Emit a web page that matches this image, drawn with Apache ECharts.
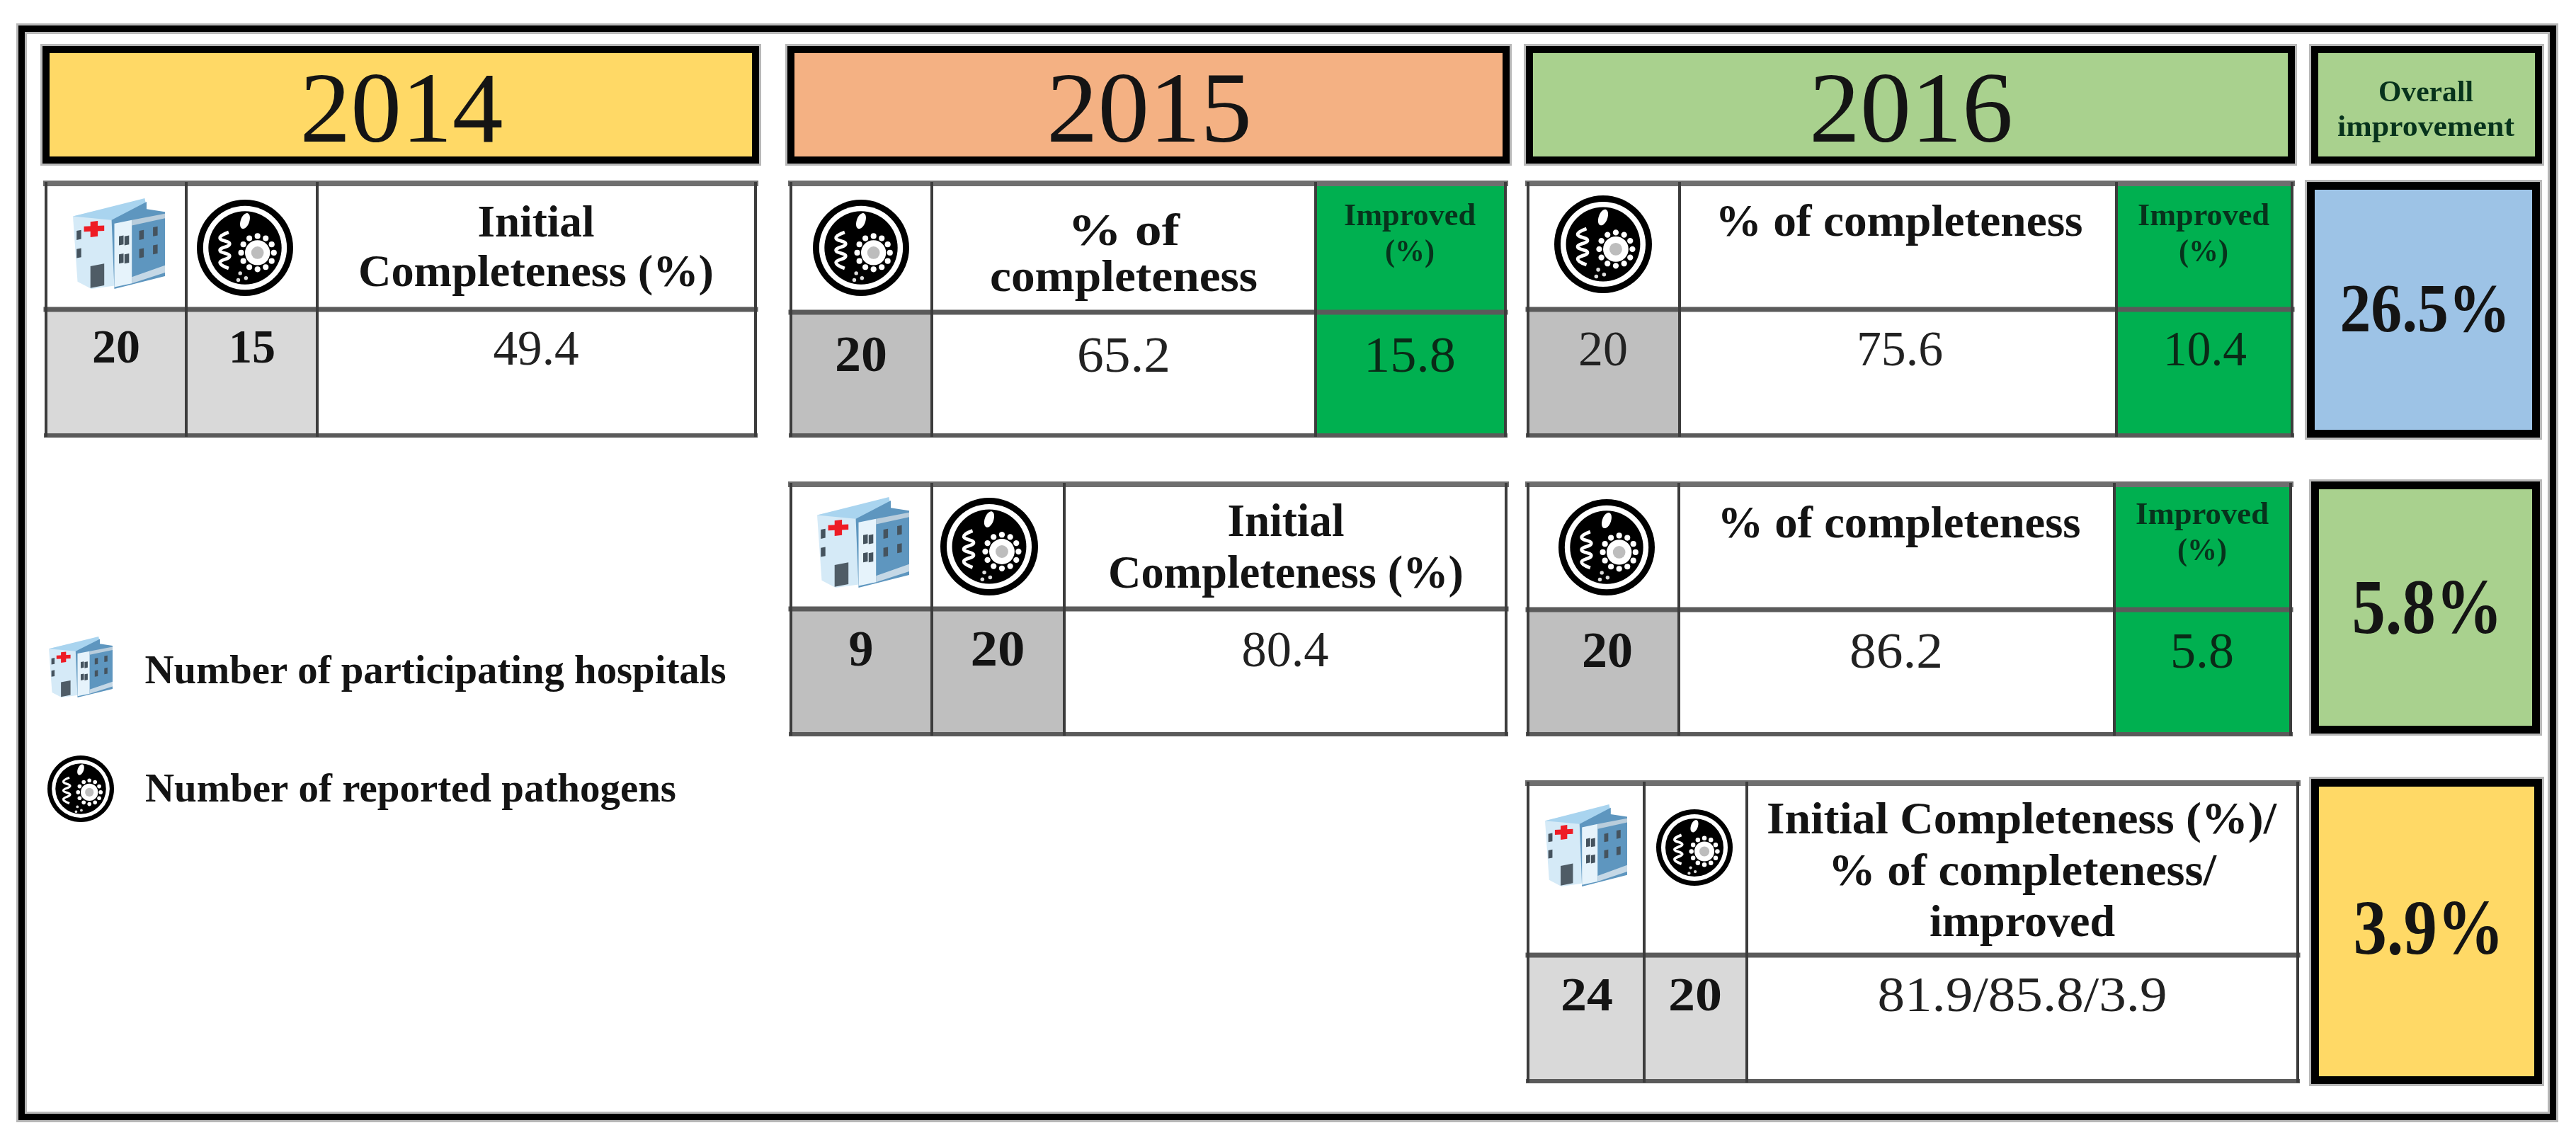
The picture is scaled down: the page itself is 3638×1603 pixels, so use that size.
<!DOCTYPE html>
<html><head><meta charset="utf-8">
<style>html,body{margin:0;padding:0;background:#fff}#c{width:3638px;height:1603px}</style>
<script src="https://cdn.jsdelivr.net/npm/echarts@6/dist/echarts.min.js"></script>
</head><body><div id="c"></div>
<script>
// ---------- values ----------
const years = ['2014', '2015', '2016'];
const overallTitle = ['Overall', 'improvement'];
const legendLabels = ['Number of participating hospitals', 'Number of reported pathogens'];
const improvedTitle = ['Improved', '(%)'];
const initialTitle = ['Initial', 'Completeness (%)'];
const completenessTitle = '% of completeness';
const combinedTitle = ['Initial Completeness (%)/', '% of completeness/', 'improved'];

const cohortAHospitals = 20;
const cohortAPathogens = [15, 20, 20];
const cohortACompleteness = [49.4, 65.2, 75.6];
const cohortAImproved = [15.8, 10.4];
const cohortAOverall = 26.5;

const cohortBHospitals = 9;
const cohortBPathogens = [20, 20];
const cohortBCompleteness = [80.4, 86.2];
const cohortBImproved = 5.8;
const cohortBOverall = 5.8;

const cohortCHospitals = 24;
const cohortCPathogens = 20;
const cohortCValues = [81.9, 85.8, 3.9];
const cohortCOverall = 3.9;

// ---------- palette and fonts ----------
const YELLOW = '#FFD966', ORANGE = '#F4B183', LGREEN = '#A9D18E', BLUE = '#9DC3E6',
      GREEN = '#00B050', GREY1 = '#D9D9D9', GREY2 = '#BFBFBF', WHITE = '#FFFFFF', INK = '#141414';
const F = 'Liberation Serif';
const fix = v => v.toFixed(1);

// ---------- layout (page pixels, mapped through hidden value axes) ----------
const boxes = [ // x0,y0,x1,y1,fill,border,borderWidth
  [26, 36, 3610, 1582, 'none', '#000', 9],
  [60, 65, 1072, 231, YELLOW, '#000', 10],
  [1112, 65, 2132, 231, ORANGE, '#000', 10],
  [2155, 65, 3241, 231, LGREEN, '#000', 10],
  [3264, 65, 3590, 231, LGREEN, '#000', 10],
  [3258, 257, 3587, 618, BLUE, '#000', 11],
  [3264, 680, 3587, 1036, LGREEN, '#000', 11],
  [3264, 1100, 3590, 1531, YELLOW, '#000', 11]
];
const tables = [ // x columns, y rows, data-row fills, header-row fills
  {xs: [65, 263, 448, 1067], ys: [259, 437, 615], head: [WHITE, WHITE, WHITE], body: [GREY1, GREY1, WHITE]},
  {xs: [1117, 1316, 1858, 2126], ys: [259, 441, 615], head: [WHITE, WHITE, GREEN], body: [GREY2, WHITE, GREEN]},
  {xs: [2158, 2372, 2989, 3237], ys: [259, 437, 615], head: [WHITE, WHITE, GREEN], body: [GREY2, WHITE, GREEN]},
  {xs: [1117, 1316, 1503, 2127], ys: [684, 860, 1037], head: [WHITE, WHITE, WHITE], body: [GREY2, GREY2, WHITE]},
  {xs: [2158, 2371, 2986, 3235], ys: [684, 861, 1037], head: [WHITE, WHITE, GREEN], body: [GREY2, WHITE, GREEN]},
  {xs: [2158, 2322, 2467, 3245], ys: [1106, 1349, 1527], head: [WHITE, WHITE, WHITE], body: [GREY1, GREY1, WHITE]}
];
const cells = [], rules = [];
tables.forEach(t => {
  for (let c = 0; c < 3; c++) {
    cells.push([t.xs[c], t.ys[0], t.xs[c + 1], t.ys[1], t.head[c]]);
    cells.push([t.xs[c], t.ys[1], t.xs[c + 1], t.ys[2], t.body[c]]);
  }
  const l = t.xs[0], r = t.xs[3];
  rules.push([l, t.ys[0], r, t.ys[0], '#6f6f6f', 8]);
  rules.push([l, t.ys[1], r, t.ys[1], '#5a5a5a', 7]);
  rules.push([l, t.ys[2], r, t.ys[2], '#5a5a5a', 6]);
  t.xs.forEach(x => rules.push([x, t.ys[0], x, t.ys[2], '#3c3c3c', 4]));
});

// label: cx, capMidY, text, weight, size, target width, colour
const B = 'bold', R = 'normal', DK = '#07331c', BODY = '#222', ONG = '#0a2a17';
const labels = [
  [567, 163, years[0], R, 142, 287, INK], [1623, 163, years[1], R, 142, 290, INK], [2699, 163, years[2], R, 142, 288, INK],
  [3426, 132, overallTitle[0], B, 42, 134, DK], [3426, 181, overallTitle[1], B, 42, 250, DK],

  [757, 318, initialTitle[0], B, 63, 165, INK], [757, 388, initialTitle[1], B, 63, 502, INK],
  [164, 495, String(cohortAHospitals), B, 67, 68, INK], [356, 495, String(cohortAPathogens[0]), B, 67, 66, INK],
  [757, 497, fix(cohortACompleteness[0]), R, 69, 121, BODY],

  [1587, 330, completenessTitle.split(' ').slice(0, 2).join(' '), B, 63, 158, INK],
  [1587, 395, completenessTitle.split(' ')[2], B, 63, 378, INK],
  [1991, 307, improvedTitle[0], B, 44, 186, DK], [1991, 358, improvedTitle[1], B, 44, 70, DK],
  [1216, 506, String(cohortAHospitals), B, 71, 74, INK], [1587, 506, fix(cohortACompleteness[1]), R, 71, 132, BODY],
  [1991, 506, fix(cohortAImproved[0]), R, 71, 130, ONG],

  [2682, 317, completenessTitle, B, 63, 519, INK],
  [3112, 307, improvedTitle[0], B, 44, 186, DK], [3112, 358, improvedTitle[1], B, 44, 70, DK],
  [2264, 498, String(cohortAPathogens[2]), R, 69, 70, BODY], [2683, 498, fix(cohortACompleteness[2]), R, 69, 122, BODY],
  [3114, 498, fix(cohortAImproved[1]), R, 69, 118, ONG],

  [1816, 740, initialTitle[0], B, 65, 165, INK], [1816, 813, initialTitle[1], B, 65, 502, INK],
  [1216, 922, String(cohortBHospitals), B, 71, 35, INK], [1409, 922, String(cohortBPathogens[0]), B, 71, 77, INK],
  [1815, 922, fix(cohortBCompleteness[0]), R, 71, 123, BODY],

  [2682, 743, completenessTitle, B, 63, 513, INK],
  [3110, 729, improvedTitle[0], B, 44, 188, DK], [3110, 780, improvedTitle[1], B, 44, 70, DK],
  [2270, 924, String(cohortBPathogens[1]), B, 71, 72, INK], [2678, 924, fix(cohortBCompleteness[1]), R, 71, 132, BODY],
  [3110, 924, fix(cohortBImproved), R, 71, 90, ONG],

  [2855, 1161, combinedTitle[0], B, 63, 720, INK], [2856, 1234, combinedTitle[1], B, 63, 548, INK], [2856, 1306, combinedTitle[2], B, 63, 262, INK],
  [2241, 1410, String(cohortCHospitals), B, 67, 74, INK], [2394, 1410, String(cohortCPathogens), B, 67, 76, INK],
  [2856, 1410, cohortCValues.map(fix).join('/'), R, 69, 409, BODY],

  [3425, 443, fix(cohortAOverall) + '%', B, 98, 241, INK],
  [3428, 866, fix(cohortBOverall) + '%', B, 110, 213, INK],
  [3430, 1319, fix(cohortCOverall) + '%', B, 110, 213, INK],

  [615, 950, legendLabels[0], B, 58, 821, INK], [580, 1117, legendLabels[1], B, 58, 750, INK]
];

// icons: kind, cx, cy, half-width, half-height
const icons = [
  ['h', 168, 344, 65, 64], ['p', 346, 350, 68, 69],
  ['p', 1216, 350, 68, 69], ['p', 2264, 345, 69, 69],
  ['h', 1219, 766, 65, 64], ['p', 1397, 772, 69, 70], ['p', 2269, 773, 68, 69],
  ['h', 2240, 1194, 58, 58], ['p', 2393, 1197, 54, 55],
  ['h', 114, 942, 45, 43], ['p', 114, 1114, 47, 49]
];

const ctx = document.createElement('canvas').getContext('2d');

// ---------- render helpers ----------
function poly(pts, fill) { return {type: 'polygon', shape: {points: pts}, style: {fill}}; }

function hospital(cx, cy, hw, hh) {
  const P = (u, v) => [cx + (u * 2 - 1) * hw, cy + (v * 2 - 1) * hh];
  const Q = a => a.map(p => P(p[0], p[1]));
  const out = [
    poly(Q([[.0,.2],[.42,.1],[.48,.96],[.2,1],[.05,.92]]), '#D5EAF7'),
    poly(Q([[.0,.2],[.78,0],[.8,.1],[.42,.24]]), '#A9D4EF'),
    poly(Q([[.42,.24],[.8,.04],[.8,.12],[1,.15],[1,.86],[.45,1]]), '#5E96BF'),
    poly(Q([[.45,.28],[.64,.24],[.64,.94],[.45,.98]]), '#E6F3FB'),
    poly(Q([[.64,.24],[1,.17],[1,.22],[.64,.3]]), '#B9CDDC'),
    poly(Q([[.64,.87],[1,.74],[1,.82],[.64,.94]]), '#C5D8E6'),
    poly(Q([[.19,.75],[.34,.72],[.34,.96],[.19,.99]]), '#4F5C66'),
    poly(Q([[.19,.26],[.27,.25],[.27,.42],[.19,.43]]), '#EE1C25'),
    poly(Q([[.12,.31],[.34,.3],[.34,.36],[.12,.37]]), '#EE1C25')
  ];
  [[.04,.36],[.04,.56],[.5,.42],[.5,.62],[.56,.42],[.56,.62],[.72,.36],[.72,.56],[.87,.32],[.87,.52]].forEach(w => {
    out.push(poly(Q([[w[0],w[1]],[w[0]+.05,w[1]-.01],[w[0]+.05,w[1]+.09],[w[0],w[1]+.1]]), '#45535E'));
  });
  return out;
}

function pathogen(cx, cy, hw, hh) {
  const r = Math.min(hw, hh);
  const c = (u, v, k, fill) => ({type: 'circle', shape: {cx: cx + u * hw, cy: cy + v * hh, r: k * r}, style: {fill}});
  const out = [c(0, 0, 1, '#000'), c(0, 0, .87, '#fff'), c(0, 0, .76, '#000')];
  const gear = [.26, .1];
  out.push(c(gear[0], gear[1], .26, '#fff'));
  for (let i = 0; i < 12; i++) {
    const a = i * Math.PI / 6;
    out.push(c(gear[0] + .34 * Math.cos(a), gear[1] + .34 * Math.sin(a), .06, '#fff'));
  }
  out.push(c(gear[0], gear[1], .13, '#bdbdbd'));
  out.push({type: 'ellipse', originX: cx, originY: cy - .55 * hh, rotation: -.35,
    shape: {cx: cx, cy: cy - .55 * hh, rx: .09 * r, ry: .17 * r}, style: {fill: '#fff'}});
  out.push({type: 'polyline',
    shape: {smooth: .5, points: [[-.34,-.32],[-.52,-.2],[-.32,-.08],[-.52,.05],[-.32,.17],[-.52,.3],[-.34,.42]].map(p => [cx + p[0] * hw, cy + p[1] * hh])},
    style: {stroke: '#fff', fill: 'none', lineWidth: Math.max(3, .07 * r)}});
  [[-.1,.52],[.02,.62],[-.14,.66]].forEach(p => out.push(c(p[0], p[1], .04, '#ddd')));
  return out;
}

function xy(api, x, y) { return api.coord([x, y]); }

const option = {
  animation: false,
  backgroundColor: '#fff',
  grid: {left: 0, right: 0, top: 0, bottom: 0},
  xAxis: {type: 'value', min: 0, max: 3638, show: false},
  yAxis: {type: 'value', min: 0, max: 1603, inverse: true, show: false},
  series: [
    {type: 'custom', coordinateSystem: 'cartesian2d', silent: true, clip: false, z: 1,
     encode: {x: 0, y: 1}, data: cells.map(c => [c[0], c[1], c[2], c[3]]),
     renderItem: (p, api) => {
       const c = cells[p.dataIndex], a = xy(api, c[0], c[1]), b = xy(api, c[2], c[3]);
       return {type: 'rect', shape: {x: a[0], y: a[1], width: b[0] - a[0], height: b[1] - a[1]}, style: {fill: c[4]}};
     }},
    {type: 'custom', coordinateSystem: 'cartesian2d', silent: true, clip: false, z: 2,
     encode: {x: 0, y: 1}, data: rules.map(c => [c[0], c[1], c[2], c[3]]),
     renderItem: (p, api) => {
       const c = rules[p.dataIndex], a = xy(api, c[0], c[1]), b = xy(api, c[2], c[3]);
       return {type: 'line', shape: {x1: a[0], y1: a[1], x2: b[0], y2: b[1]}, style: {stroke: c[4], lineWidth: c[5], lineCap: 'square'}};
     }},
    {type: 'custom', coordinateSystem: 'cartesian2d', silent: true, clip: false, z: 3,
     encode: {x: 0, y: 1}, data: boxes.map(c => [c[0], c[1], c[2], c[3]]),
     renderItem: (p, api) => {
       const c = boxes[p.dataIndex], a = xy(api, c[0], c[1]), b = xy(api, c[2], c[3]), h = c[6] / 2;
       const shape = {x: a[0] + h, y: a[1] + h, width: b[0] - a[0] - 2 * h, height: b[1] - a[1] - 2 * h};
       return {type: 'group', children: [
         {type: 'rect', shape, style: {fill: 'none', stroke: '#b8b8b8', lineWidth: c[6] + 6}},
         {type: 'rect', shape, style: {fill: c[4], stroke: c[5], lineWidth: c[6]}}
       ]};
     }},
    {type: 'custom', coordinateSystem: 'cartesian2d', silent: true, clip: false, z: 4,
     encode: {x: 1, y: 2}, data: icons.map(c => [c[0] === 'h' ? 0 : 1, c[1], c[2]]),
     renderItem: (p, api) => {
       const c = icons[p.dataIndex], a = xy(api, c[1], c[2]);
       const k = xy(api, c[1] + c[3], c[2] + c[4]);
       const hw = k[0] - a[0], hh = k[1] - a[1];
       return {type: 'group', children: c[0] === 'h' ? hospital(a[0], a[1], hw, hh) : pathogen(a[0], a[1], hw, hh)};
     }},
    {type: 'custom', coordinateSystem: 'cartesian2d', silent: true, clip: false, z: 5,
     encode: {x: 0, y: 1}, data: labels.map(c => [c[0], c[1]]),
     renderItem: (p, api) => {
       const c = labels[p.dataIndex], a = xy(api, c[0], c[1]);
       const font = c[3] + ' ' + c[4] + 'px "' + F + '"';
       ctx.font = font;
       return {type: 'text', x: a[0], y: a[1], scaleX: c[5] / ctx.measureText(c[2]).width,
               style: {x: 0, y: 0, text: c[2], font, fill: c[6], align: 'center', verticalAlign: 'middle'}};
     }}
  ]
};
const chart = echarts.init(document.getElementById('c'));
document.fonts.load('bold 40px "' + F + '"').finally(() => chart.setOption(option));
chart.setOption(option);
</script></body></html>
